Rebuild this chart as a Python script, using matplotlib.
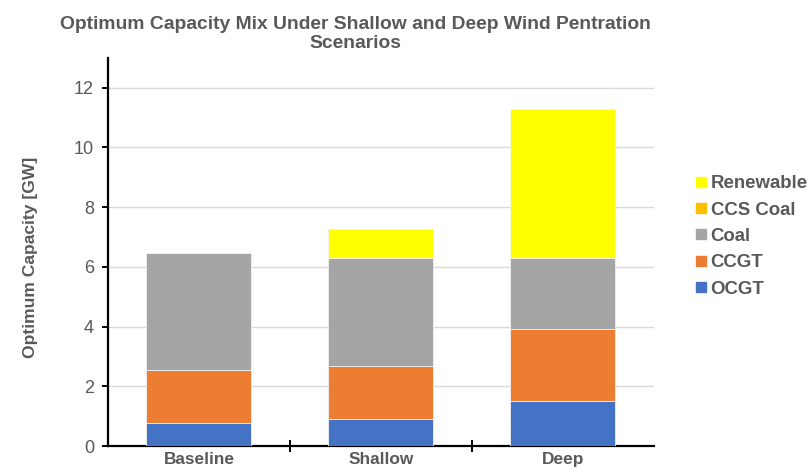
import matplotlib
matplotlib.use("Agg")
import matplotlib.pyplot as plt
from matplotlib.lines import Line2D
import numpy as np

plt.rcParams['font.family'] = ['Liberation Sans', 'DejaVu Sans']

scenarios = ["Baseline", "Shallow", "Deep"]
ocgt = [0.76, 0.89, 1.50]
ccgt = [1.79, 1.80, 2.41]
coal = [3.91, 3.62, 2.40]
ccs_coal = [0.0, 0.0, 0.0]
renewable = [0.0, 0.96, 4.99]

series = [
    ("OCGT", ocgt, "#4472C4"),
    ("CCGT", ccgt, "#ED7D31"),
    ("Coal", coal, "#A5A5A5"),
    ("CCS Coal", ccs_coal, "#FFC000"),
    ("Renewable", renewable, "#FFFF00"),
]

text_gray = "#595959"

fig = plt.figure(figsize=(8.12, 4.70), dpi=100)
ax = fig.add_axes([0.133, 0.051, 0.672, 0.826])

x = np.arange(len(scenarios))
bottom = np.zeros(len(scenarios))
for name, vals, col in series:
    vals = np.array(vals)
    ax.bar(x, vals, width=0.577, bottom=bottom, color=col,
           edgecolor="#f2f2f2", linewidth=0.6, zorder=3)
    bottom += vals

ax.set_xlim(-0.5, 2.5)
ax.set_ylim(0, 13)
ax.set_yticks(range(0, 13, 2))
ax.yaxis.grid(True, color="#d9d9d9", linewidth=1.0, zorder=0)
ax.set_axisbelow(True)

for s in ["top", "right"]:
    ax.spines[s].set_visible(False)
for s in ["left", "bottom"]:
    ax.spines[s].set_color("black")
    ax.spines[s].set_linewidth(1.6)

ax.tick_params(axis="y", direction="out", length=4, width=1.4,
               labelsize=13, labelcolor=text_gray, pad=6)
# category labels in the middle, boundary ticks between categories
ax.set_xticks(x)
ax.set_xticklabels(scenarios, fontsize=12.4, fontweight="bold", color=text_gray)
ax.tick_params(axis="x", which="major", length=0, pad=4)
ax.set_xticks([0.5, 1.5], minor=True)
ax.tick_params(axis="x", which="minor", direction="inout", length=8, width=1.4)

fig.text(31 / 812, 1 - 257 / 470, "Optimum Capacity [GW]", rotation=90,
         ha="center", va="center", fontsize=12.6, fontweight="bold",
         color=text_gray)

fig.text(0.438, 0.966, "Optimum Capacity Mix Under Shallow and Deep Wind Pentration\nScenarios",
         ha="center", va="top", fontsize=13.9, fontweight="bold",
         color=text_gray, linespacing=1.15)

handles = [Line2D([0], [0], marker="s", linestyle="none", markersize=6.5,
                  markerfacecolor=col, markeredgecolor=col)
           for name, vals, col in reversed(series)]
labels = [name for name, vals, col in reversed(series)]
leg = fig.legend(handles, labels, loc="center left", bbox_to_anchor=(0.858, 0.497),
                 frameon=False, handlelength=0.5, handletextpad=0.25,
                 labelspacing=0.5, borderaxespad=0, borderpad=0,
                 prop={"size": 13.4, "weight": "bold"})
for t in leg.get_texts():
    t.set_color(text_gray)

fig.savefig("out.png", dpi=100)
